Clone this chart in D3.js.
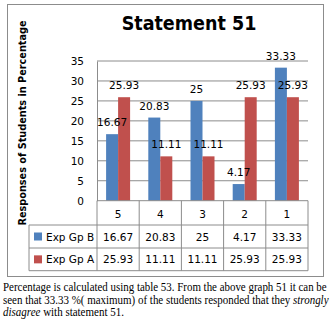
<!DOCTYPE html>
<html>
<head>
<meta charset="utf-8">
<script src="https://cdn.jsdelivr.net/npm/d3@7"></script>
<style>
  body { margin: 0; background: #fff; }
  svg text { font-family: 'DejaVu Sans', Verdana, sans-serif; }
</style>
</head>
<body>
<div id="chart"></div>
<script>
const categories = ['5', '4', '3', '2', '1']
const seriesNames = ['Exp Gp B', 'Exp Gp A']
const expGpB = [16.67, 20.83, 25, 4.17, 33.33]
const expGpA = [25.93, 11.11, 11.11, 25.93, 25.93]
const yTicks = [0, 5, 10, 15, 20, 25, 30, 35]
const captionLines = [
  [{ t: 'Percentage is calculated using table 53. From the above graph 51 it can be' }],
  [{ t: 'seen that 33.33 %( maximum) of the students responded that they ' }, { t: 'strongly', i: true }],
  [{ t: 'disagree', i: true }, { t: ' with statement 51.' }]
]

const colors = ['#4F81BD', '#C0504D']
const series = [expGpB, expGpA]

const W = 330
const H = 323
const plot = { left: 97, right: 308, top: 61, bottom: 200.7 }
const rowY = [200.7, 225, 248, 270.7]
const tableLeft = 29

const svg = d3.select('#chart')
  .append('svg')
  .attr('width', W)
  .attr('height', H)

svg.append('rect')
  .attr('width', W).attr('height', H)
  .attr('fill', '#fff')

// chart frame
svg.append('rect')
  .attr('x', 7.5).attr('y', 4.5)
  .attr('width', 316).attr('height', 272)
  .attr('fill', 'none')
  .attr('stroke', '#8c8c8c')

svg.append('text')
  .attr('x', 189).attr('y', 30)
  .attr('text-anchor', 'middle')
  .style('font-family', "'DejaVu Sans Condensed', 'DejaVu Sans', sans-serif")
  .style('font-weight', 'bold')
  .style('font-size', '19.5px')
  .text('Statement  51')

const x = d3.scaleBand()
  .domain(categories)
  .range([plot.left, plot.right])

const y = d3.scaleLinear()
  .domain([0, 35])
  .range([plot.bottom, plot.top])

const barW = 12

// gridlines
svg.append('g')
  .selectAll('line')
  .data(yTicks.filter(d => d > 0))
  .enter().append('line')
  .attr('x1', plot.left).attr('x2', plot.right)
  .attr('y1', d => y(d)).attr('y2', d => y(d))
  .attr('stroke', '#8c8c8c')

// y axis
const yAxis = svg.append('g')
  .attr('transform', `translate(${plot.left},0)`)
  .call(d3.axisLeft(y).tickValues(yTicks).tickSize(0).tickPadding(13))
yAxis.select('.domain').attr('stroke', '#8c8c8c')
yAxis.selectAll('text')
  .style('font-family', "'DejaVu Sans', sans-serif")
  .style('font-size', '10.5px')
  .attr('fill', '#000')

svg.append('text')
  .attr('transform', 'translate(26,123) rotate(-90)')
  .attr('text-anchor', 'middle')
  .style('font-family', "'DejaVu Sans Condensed', 'DejaVu Sans', sans-serif")
  .style('font-weight', 'bold')
  .style('font-size', '10.8px')
  .text('Responses of Students in Percentage')

// bars
const barX = (i, s) => x(categories[i]) + x.bandwidth() / 2 - barW + s * barW
series.forEach((vals, s) => {
  svg.append('g')
    .selectAll('rect')
    .data(vals)
    .enter().append('rect')
    .attr('x', (d, i) => barX(i, s))
    .attr('width', barW)
    .attr('y', d => y(d))
    .attr('height', d => y(0) - y(d))
    .attr('fill', colors[s])
})

// data labels, drawn after every bar
series.forEach((vals, s) => {
  svg.append('g')
    .selectAll('text')
    .data(vals)
    .enter().append('text')
    .attr('x', (d, i) => Math.max(barX(i, s) + barW / 2, plot.left + 10.5))
    .attr('y', d => y(d) - 8)
    .attr('text-anchor', 'middle')
    .style('font-size', '10.5px')
    .text(d => d)
})

// data table
const tbl = svg.append('g').attr('stroke', '#8c8c8c')
rowY.forEach((ry, i) => {
  tbl.append('line')
    .attr('x1', i === 0 ? plot.left : tableLeft).attr('x2', plot.right)
    .attr('y1', ry).attr('y2', ry)
})
tbl.append('line')
  .attr('x1', tableLeft).attr('x2', tableLeft)
  .attr('y1', rowY[1]).attr('y2', rowY[3])
categories.concat(['end']).forEach((c, i) => {
  const xx = plot.left + i * x.bandwidth()
  tbl.append('line')
    .attr('x1', xx).attr('x2', xx)
    .attr('y1', rowY[0]).attr('y2', rowY[3])
})

svg.append('g')
  .selectAll('text')
  .data(categories)
  .enter().append('text')
  .attr('x', d => x(d) + x.bandwidth() / 2)
  .attr('y', rowY[0] + 17)
  .attr('text-anchor', 'middle')
  .style('font-size', '10.5px')
  .text(d => d)

series.forEach((vals, s) => {
  const base = (rowY[s + 1] + rowY[s + 2]) / 2 + 4
  svg.append('g')
    .selectAll('text')
    .data(vals)
    .enter().append('text')
    .attr('x', (d, i) => x(categories[i]) + x.bandwidth() / 2)
    .attr('y', base)
    .attr('text-anchor', 'middle')
    .style('font-size', '10.5px')
    .text(d => d)

  svg.append('rect')
    .attr('x', 34).attr('y', base - 8)
    .attr('width', 8).attr('height', 8)
    .attr('fill', colors[s])
  svg.append('text')
    .attr('x', 46).attr('y', base)
    .style('font-size', '10.5px')
    .text(seriesNames[s])
})

// caption under the chart, squeezed horizontally to the widths in the picture
const capW = [324, 326, 121]
captionLines.forEach((parts, i) => {
  const t = svg.append('text')
    .attr('x', 0).attr('y', 0)
    .style('font-family', "'Liberation Serif', 'Times New Roman', serif")
    .style('font-size', '11.5px')
  parts.forEach(p => {
    t.append('tspan')
      .style('font-style', p.i ? 'italic' : 'normal')
      .text(p.t)
  })
  const natural = t.node().getComputedTextLength()
  t.attr('transform', `translate(3,${291 + i * 12.5}) scale(${capW[i] / natural},1)`)
})
</script>
</body>
</html>
